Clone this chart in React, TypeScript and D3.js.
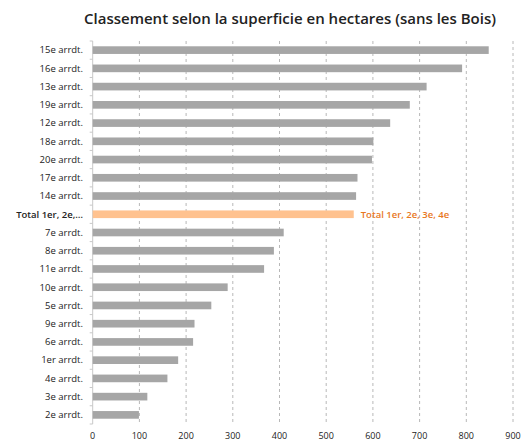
import React from "react";
import * as d3 from "d3";

const categories = [
  "15e arrdt.", "16e arrdt.", "13e arrdt.", "19e arrdt.", "12e arrdt.", "18e arrdt.",
  "20e arrdt.", "17e arrdt.", "14e arrdt.", "Total 1er, 2e,…", "7e arrdt.", "8e arrdt.",
  "11e arrdt.", "10e arrdt.", "5e arrdt.", "9e arrdt.", "6e arrdt.", "1er arrdt.",
  "4e arrdt.", "3e arrdt.", "2e arrdt.",
];
const values = [848, 791, 715, 679, 637, 601, 598, 567, 564, 559, 409, 388, 367, 289, 254, 218, 215, 183, 160, 117, 99];
const highlightIndex = 9;
const highlightLabel = "Total 1er, 2e, 3e, 4e";
const xTicks = [0, 100, 200, 300, 400, 500, 600, 700, 800, 900];
const title = "Classement selon la superficie en hectares (sans les Bois)";

export default function App() {
  const W = 528, H = 446;
  const x = d3.scaleLinear().domain([0, 900]).range([92.7, 513]);
  const top = 41, bottom = 424;
  const y = d3.scaleBand<number>().domain(d3.range(categories.length)).range([top, bottom]).paddingInner(0.58).paddingOuter(0.29);
  const font = "'Open Sans', 'DejaVu Sans', sans-serif";
  return (
    <svg width={W} height={H} style={{ position: "absolute", left: 0, top: 0, background: "#fff" }}>
      <text x={290} y={24} textAnchor="middle" fontFamily={font} fontWeight={600} fontSize={15} fill="#222">{title}</text>
      {xTicks.slice(1).map((t) => (
        <line key={t} x1={x(t)} x2={x(t)} y1={top} y2={bottom} stroke="#b8b8b8" strokeWidth={1} strokeDasharray="3,3" />
      ))}
      <line x1={x(0)} x2={x(0)} y1={top} y2={bottom} stroke="#c8c8c8" strokeWidth={1} />
      {d3.range(categories.length + 1).map((i) => {
        const yy = top + (i * (bottom - top)) / categories.length;
        return <line key={"t" + i} x1={x(0) - 3} x2={x(0)} y1={yy} y2={yy} stroke="#c8c8c8" />;
      })}
      {values.map((v, i) => (
        <rect key={i} x={x(0)} y={y(i)!} width={x(v) - x(0)} height={y.bandwidth()}
          fill={i === highlightIndex ? "#FFC28F" : "#A6A6A6"} />
      ))}
      {categories.map((c, i) => (
        <text key={c} x={83} y={y(i)! + y.bandwidth() / 2} dy="0.35em" textAnchor="end"
          fontFamily={font} fontSize={9.5} fill="#222" fontWeight={i === highlightIndex ? 600 : 400}>{c}</text>
      ))}
      <text x={x(values[highlightIndex]) + 7} y={y(highlightIndex)! + y.bandwidth() / 2} dy="0.35em"
        fontFamily={font} fontSize={9.5} fontWeight={600} fill="#E8781E">{highlightLabel}</text>
      {xTicks.map((t) => (
        <text key={"x" + t} x={x(t)} y={436} dy="0.35em" textAnchor="middle" fontFamily={font} fontSize={9} fill="#222">{t}</text>
      ))}
    </svg>
  );
}
